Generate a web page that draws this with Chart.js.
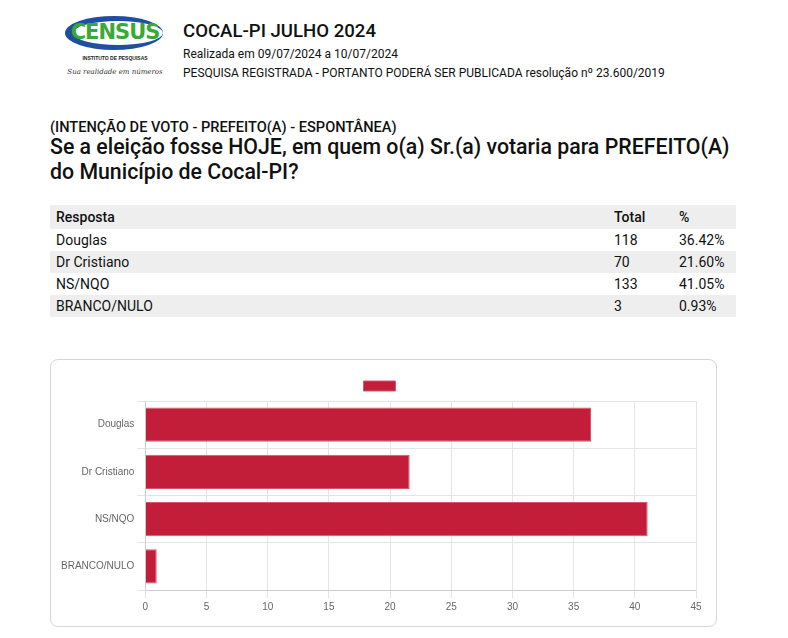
<!DOCTYPE html>
<html>
<head>
<meta charset="utf-8">
<script src="https://cdn.jsdelivr.net/npm/chart.js@4/dist/chart.umd.min.js"></script>
<style>
  body { margin: 0; background: #fff; font-family: Roboto, "Liberation Sans", sans-serif; color: #111; }
  .page { position: relative; width: 788px; height: 638px; overflow: hidden; }
  .logo { position: absolute; left: 62px; top: 16px; width: 106px; }
  .logo .oval { position: relative; width: 98px; height: 34px; margin-left: 3px; border-radius: 50%; background: #1f4fa0; overflow: hidden; }
  .logo .oval .inner { position: absolute; left: 8px; top: 5px; width: 90px; height: 24px; border-radius: 50%; background: #fff; }
  .logo .oval span { position: absolute; left: 2px; top: 4px; width: 96px; text-align: center; font: 900 21px "DejaVu Sans", sans-serif; color: #3aa935; letter-spacing: -1px; }
  .logo .inst { font: bold 5px "Liberation Sans", sans-serif; text-align: center; margin-top: 5px; color: #222; }
  .logo .slogan { font: italic 7px "DejaVu Serif", serif; text-align: center; margin-top: 7px; color: #333; white-space: nowrap; }
  .head h1 { position: absolute; left: 183px; top: 20px; margin: 0; font-size: 18.6px; font-weight: 500; }
  .head .l1 { position: absolute; left: 183px; top: 47px; font-size: 12px; }
  .head .l2 { position: absolute; left: 183px; top: 66px; font-size: 12px; }
  .q1 { position: absolute; left: 50px; top: 118px; font-size: 14.6px; font-weight: 500; }
  .q2 { position: absolute; left: 50px; top: 134px; font-size: 21.3px; line-height: 25px; width: 695px; font-weight: 500; }
  table { position: absolute; left: 50px; top: 205px; width: 686px; border-collapse: collapse; font-size: 14px; }
  td, th { height: 22px; padding: 0 6px; text-align: left; }
  th { font-weight: 500; height: 24px; }
  tr:nth-child(odd) { background: #eeeeee; }
  .card { position: absolute; left: 50px; top: 359px; width: 665px; height: 266px; border: 1px solid #d6d6d6; border-radius: 8px; }
  #wrap { position: absolute; left: 7px; top: 13px; width: 656px; height: 243px; }
</style>
</head>
<body>
<div class="page">
  <div class="logo">
    <div class="oval"><div class="inner"></div><span>CENSUS</span></div>
    <div class="inst">INSTITUTO DE PESQUISAS</div>
    <div class="slogan">Sua realidade em números</div>
  </div>
  <div class="head">
    <h1>COCAL-PI JULHO 2024</h1>
    <div class="l1">Realizada em 09/07/2024 a 10/07/2024</div>
    <div class="l2">PESQUISA REGISTRADA - PORTANTO PODERÁ SER PUBLICADA resolução nº 23.600/2019</div>
  </div>
  <div class="q1">(INTENÇÃO DE VOTO - PREFEITO(A) - ESPONTÂNEA)</div>
  <div class="q2">Se a eleição fosse HOJE, em quem o(a) Sr.(a) votaria para PREFEITO(A) do Município de Cocal-PI?</div>
  <table id="tbl">
    <tr><th style="width:546px">Resposta</th><th style="width:53px">Total</th><th>%</th></tr>
  </table>
  <div class="card"><div id="wrap"><canvas id="chart"></canvas></div></div>
</div>
<script>
const respostas = ['Douglas', 'Dr Cristiano', 'NS/NQO', 'BRANCO/NULO'];
const totais = [118, 70, 133, 3];
const percentuais = [36.42, 21.60, 41.05, 0.93];
const xTicks = [0, 5, 10, 15, 20, 25, 30, 35, 40, 45];

const tbl = document.getElementById('tbl');
respostas.forEach(function(r, i) {
    const tr = document.createElement('tr');
    tr.innerHTML = '<td>' + r + '</td><td>' + totais[i] + '</td><td>' + percentuais[i].toFixed(2) + '%</td>';
    tbl.appendChild(tr);
});

Chart.defaults.font.family = '"Liberation Sans", Arial, sans-serif';
Chart.defaults.font.size = 10;
Chart.defaults.color = '#666';

new Chart(document.getElementById('chart'), {
    type: 'bar',
    data: {
        labels: respostas,
        datasets: [{
            label: '',
            data: percentuais,
            backgroundColor: '#c21e3a',
            borderColor: '#d8566c',
            borderWidth: 1
        }]
    },
    options: {
        indexAxis: 'y',
        responsive: true,
        maintainAspectRatio: false,
        animation: false,
        layout: { padding: { left: 0, right: 18, bottom: 0 } },
        plugins: {
            // rtl puts the empty label's box on the right side of the item
            legend: { rtl: true, labels: { boxWidth: 32, boxHeight: 10, padding: 8 } },
            tooltip: { enabled: false }
        },
        scales: {
            x: {
                min: xTicks[0],
                max: xTicks[xTicks.length - 1],
                ticks: { stepSize: 5 },
                grid: { color: '#e5e5e5' }
            },
            y: {
                grid: { color: '#e5e5e5' }
            }
        }
    }
});
</script>
</body>
</html>
